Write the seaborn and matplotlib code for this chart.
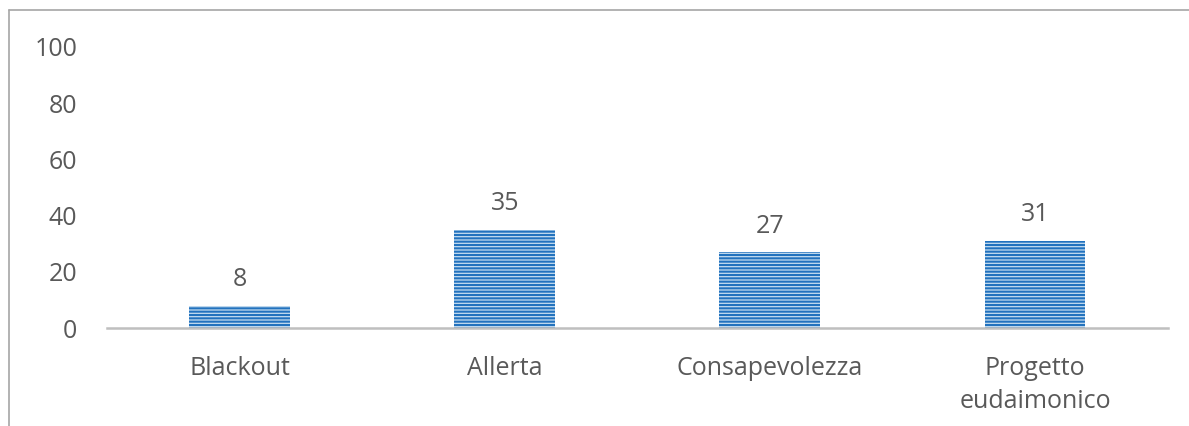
import matplotlib
matplotlib.use("Agg")
import matplotlib.pyplot as plt
from matplotlib.lines import Line2D
import seaborn as sns
import pandas as pd

categories = ["Blackout", "Allerta", "Consapevolezza", "Progetto\neudaimonico"]
values = [8, 35, 27, 31]
yticks = [0, 20, 40, 60, 80, 100]

sns.set_theme(style="white")
plt.rcParams['font.family'] = ['Open Sans', 'DejaVu Sans']
plt.rcParams['hatch.linewidth'] = 1.5

df = pd.DataFrame({"cat": categories, "val": values})

fig = plt.figure(figsize=(11.89, 4.26), dpi=100)
ax = fig.add_axes([0.090, 0.230, 0.892, 0.660])
sns.barplot(data=df, x="cat", y="val", ax=ax, color="#9DC3E6", width=0.38,
            saturation=1)
for p in ax.patches:
    p.set_facecolor("#C5DCF0")
    p.set_edgecolor("#2272BE")
    p.set_hatch("-----")
    p.set_linewidth(0)

for i, v in enumerate(values):
    ax.text(i, v + 4.8, str(v), ha="center", va="bottom", fontsize=18, color="#595959")

ax.set_xlim(-0.5, 3.5)
ax.set_ylim(0, 100)
ax.set_yticks(yticks)
ax.set_yticklabels([str(t) for t in yticks])
ax.set_xlabel("")
ax.set_ylabel("")
ax.tick_params(axis="both", length=0, labelsize=18, labelcolor="#595959")
ax.tick_params(axis="y", pad=21.5)
ax.tick_params(axis="x", pad=20)
for lbl in ax.get_xticklabels():
    lbl.set_linespacing(1.45)
for s in ["top", "right", "left"]:
    ax.spines[s].set_visible(False)
ax.spines["bottom"].set_color("#BFBFBF")
ax.spines["bottom"].set_linewidth(1.8)
ax.grid(False)

fig.add_artist(Line2D([9/1189, 1], [1 - 10/426, 1 - 10/426], color="#A6A6A6", lw=1.2,
                      transform=fig.transFigure))
fig.add_artist(Line2D([9/1189, 9/1189], [0, 1 - 10/426], color="#A6A6A6", lw=1.2,
                      transform=fig.transFigure))

fig.savefig("out.png", dpi=100)
